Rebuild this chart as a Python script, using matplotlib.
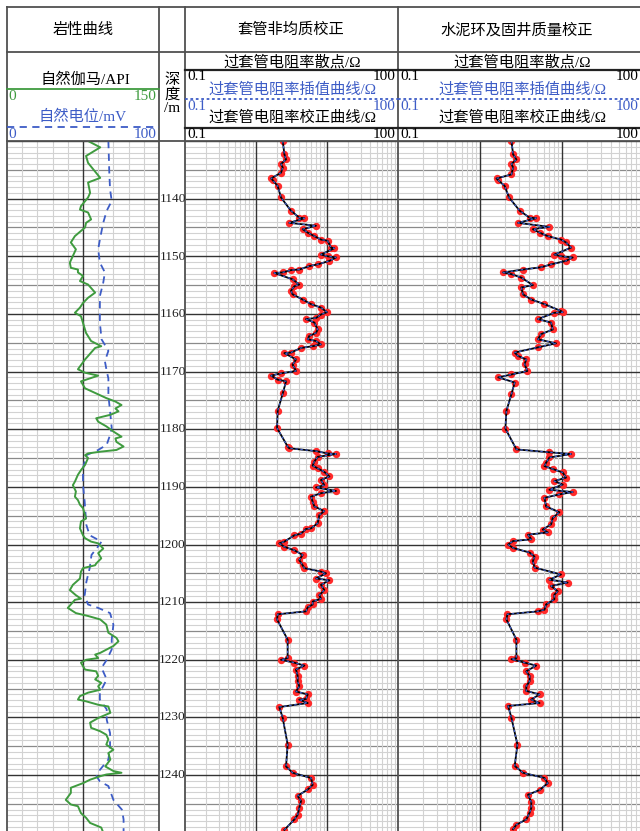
import numpy as np
import matplotlib.pyplot as plt

W, H = 640, 831
TOP, BOT = 1130.0, 1249.7

# 自然伽马 (API)
gr_depth = [1130.0, 1131.1, 1132.6, 1133.8, 1136.4, 1137.2, 1139.0, 1139.8, 1141.3, 1141.9,
            1142.4, 1143.6, 1144.2, 1145.0, 1146.5, 1147.6, 1148.8, 1151.1, 1152.0, 1152.3,
            1152.8, 1153.4, 1154.3, 1154.9, 1156.3, 1157.2, 1158.1, 1158.9, 1159.8, 1160.4,
            1163.3, 1164.7, 1165.6, 1165.9, 1167.3, 1167.9, 1169.1, 1169.6, 1170.2, 1170.7,
            1171.7, 1172.9, 1173.8, 1174.6, 1175.2, 1175.8, 1176.4, 1176.9, 1177.5, 1178.1,
            1178.7, 1179.5, 1180.4, 1181.3, 1181.6, 1182.2, 1183.0, 1183.6, 1183.9, 1184.2,
            1184.5, 1185.0, 1186.2, 1187.1, 1187.9, 1189.1, 1189.7, 1190.8, 1191.7, 1192.3,
            1193.1, 1193.7, 1194.9, 1195.5, 1196.0, 1197.2, 1198.4, 1198.9, 1199.5, 1199.8,
            1200.7, 1201.5, 1202.4, 1203.3, 1203.6, 1204.1, 1204.7, 1205.9, 1207.0, 1207.9,
            1208.8, 1209.4, 1209.6, 1210.4, 1211.0, 1211.9, 1212.4, 1213.0, 1213.9, 1215.3,
            1216.2, 1216.8, 1217.6, 1218.8, 1219.1, 1219.7, 1220.0, 1220.5, 1221.7, 1222.0,
            1222.8, 1223.4, 1224.0, 1224.6, 1225.2, 1225.7, 1226.3, 1226.9, 1227.2, 1227.8,
            1228.1, 1229.2, 1230.1, 1230.9, 1231.8, 1232.4, 1233.0, 1233.8, 1234.7, 1235.6,
            1236.2, 1237.3, 1238.5, 1239.3, 1239.6, 1239.9, 1240.2, 1240.8, 1241.4, 1242.2,
            1243.1, 1244.3, 1245.1, 1245.4, 1246.6, 1247.4, 1248.3, 1249.1, 1250.0]
gr_api = [80, 92, 78, 80, 92, 80, 82, 80, 73, 72,
          80, 83, 78, 77, 67, 63, 68, 62, 63, 70,
          70, 75, 72, 80, 87, 80, 75, 72, 67, 73,
          78, 83, 93, 87, 80, 77, 72, 70, 77, 90,
          73, 77, 88, 98, 107, 113, 107, 110, 102, 88,
          90, 98, 105, 113, 107, 108, 115, 108, 92, 80,
          77, 80, 77, 73, 70, 67, 65, 68, 67, 70,
          72, 75, 77, 78, 73, 72, 75, 77, 83, 90,
          95, 90, 93, 88, 87, 75, 73, 72, 65, 62,
          68, 73, 67, 63, 60, 68, 80, 92, 98, 100,
          108, 110, 105, 92, 87, 90, 78, 73, 77, 88,
          90, 87, 93, 90, 92, 80, 72, 70, 78, 90,
          100, 102, 90, 82, 83, 92, 98, 100, 98, 105,
          100, 102, 97, 105, 113, 98, 92, 82, 75, 63,
          63, 58, 63, 70, 73, 78, 82, 93, 95]

# 自然电位 (mV)
sp_depth = [1130.0, 1135.5, 1138.4, 1140.4, 1142.1, 1144.2, 1147.1, 1148.8, 1151.1, 1152.8,
            1154.6, 1156.9, 1161.5, 1164.4, 1166.4, 1168.2, 1169.9, 1171.2, 1174.1, 1176.9,
            1179.8, 1181.0, 1182.7, 1183.6, 1184.5, 1186.8, 1189.7, 1192.6, 1196.6, 1198.4,
            1199.5, 1200.7, 1201.8, 1204.1, 1206.5, 1208.8, 1210.4, 1211.0, 1211.9, 1213.9,
            1216.5, 1218.2, 1220.0, 1221.4, 1223.4, 1225.7, 1226.9, 1228.6, 1230.4, 1232.7,
            1235.0, 1237.3, 1239.1, 1240.2, 1241.1, 1241.9, 1244.3, 1246.0, 1247.7, 1250.0]
sp_mv = [66.7, 67.3, 67.8, 68.9, 65.6, 63.3, 61.1, 60.0, 61.1, 64.4,
         63.3, 61.1, 61.1, 62.2, 66.7, 64.4, 65.6, 66.7, 66.7, 67.8,
         68.9, 67.8, 65.6, 60.0, 52.2, 50.0, 50.0, 51.1, 52.2, 54.4,
         62.2, 58.9, 55.6, 54.4, 52.2, 51.1, 53.3, 60.0, 67.8, 70.0,
         68.9, 68.9, 65.6, 62.2, 65.6, 61.1, 61.1, 65.6, 65.6, 67.8,
         67.8, 66.7, 61.1, 58.9, 61.1, 66.7, 70.0, 75.6, 76.7, 76.7]

# 套管非均质校正: 过套管电阻率 (ohm)
r2_depth = [1130.0, 1132.3, 1133.2, 1134.0, 1134.6, 1135.5, 1136.5, 1136.8, 1137.8, 1139.8,
            1142.1, 1143.3, 1143.4, 1144.2, 1144.7, 1145.3, 1145.9, 1146.5, 1147.1, 1147.3,
            1148.5, 1148.6, 1149.7, 1150.0, 1150.2, 1150.8, 1151.4, 1151.7, 1152.3, 1152.4,
            1152.8, 1152.9, 1154.0, 1154.9, 1155.2, 1156.0, 1156.6, 1157.5, 1158.3, 1158.9,
            1159.7, 1160.1, 1160.7, 1160.9, 1161.5, 1162.7, 1163.3, 1163.8, 1164.4, 1164.7,
            1165.3, 1165.6, 1165.9, 1166.7, 1166.8, 1167.9, 1168.8, 1169.9, 1170.3, 1170.7,
            1171.4, 1171.7, 1173.8, 1176.8, 1179.8, 1183.0, 1183.3, 1183.8, 1184.2, 1184.3,
            1184.8, 1185.6, 1186.3, 1186.8, 1187.4, 1188.2, 1188.8, 1189.7, 1190.1, 1190.7,
            1191.1, 1191.7, 1192.6, 1193.4, 1194.2, 1194.9, 1196.3, 1197.2, 1197.3, 1198.1,
            1198.4, 1199.5, 1199.8, 1200.4, 1201.0, 1201.8, 1202.7, 1203.6, 1204.1, 1204.7,
            1205.0, 1205.9, 1206.2, 1207.0, 1207.9, 1208.8, 1209.4, 1209.9, 1210.4, 1210.9,
            1211.6, 1212.1, 1213.0, 1216.5, 1219.7, 1220.0, 1220.5, 1221.0, 1221.7, 1222.8,
            1223.7, 1224.6, 1225.5, 1226.0, 1226.8, 1226.9, 1227.5, 1228.2, 1230.1, 1234.7,
            1238.5, 1239.6, 1240.5, 1241.7, 1242.5, 1243.6, 1244.5, 1245.7, 1246.9, 1247.7,
            1249.5]
r2_ohm = [2.38, 2.51, 2.65, 2.25, 2.38, 2.25, 1.63, 1.72, 2.02, 2.25,
          3.11, 4.07, 4.80, 2.94, 7.00, 4.54, 5.35, 6.64, 8.22, 10.2,
          11.4, 12.7, 8.22, 10.2, 13.4, 10.8, 7.40, 5.64, 4.07, 3.11,
          2.38, 1.81, 3.28, 4.07, 3.47, 3.11, 3.28, 4.54, 5.96, 8.22,
          10.0, 8.22, 7.00, 5.06, 6.64, 7.40, 7.00, 5.64, 5.35, 7.00,
          8.22, 6.28, 4.31, 3.11, 2.51, 3.66, 3.28, 3.66, 2.25, 1.63,
          2.02, 2.65, 2.38, 2.02, 1.98, 2.79, 2.94, 7.00, 10.2, 13.4,
          7.40, 6.64, 6.28, 7.40, 9.16, 10.8, 8.22, 9.16, 7.00, 13.4,
          8.22, 5.96, 6.28, 6.64, 9.16, 7.80, 7.40, 5.96, 5.06, 4.31,
          3.47, 2.51, 2.13, 2.51, 3.47, 4.54, 4.07, 4.54, 4.80, 8.22,
          9.68, 7.00, 10.8, 8.22, 9.16, 7.80, 8.22, 6.28, 6.28, 5.35,
          5.06, 2.02, 1.98, 2.79, 2.79, 2.25, 3.47, 4.80, 3.66, 3.86,
          3.86, 4.07, 3.66, 5.35, 5.06, 4.07, 5.35, 2.13, 2.38, 2.79,
          2.65, 3.28, 5.96, 6.28, 5.35, 3.86, 4.31, 4.07, 3.86, 3.47,
          2.51]

# 水泥环及固井质量校正: 过套管电阻率 (ohm)
r3_depth = [1130.0, 1132.3, 1133.2, 1134.0, 1134.6, 1135.8, 1136.5, 1136.8, 1137.8, 1139.8,
            1142.1, 1143.3, 1143.4, 1144.2, 1144.9, 1145.3, 1145.9, 1146.5, 1147.1, 1147.6,
            1148.5, 1149.7, 1150.0, 1150.2, 1150.8, 1151.4, 1151.9, 1152.3, 1152.8, 1153.1,
            1153.7, 1155.0, 1155.4, 1156.6, 1157.5, 1158.3, 1159.5, 1159.7, 1159.8, 1160.9,
            1161.5, 1162.7, 1163.5, 1164.4, 1165.1, 1165.8, 1166.7, 1167.3, 1167.9, 1168.7,
            1169.9, 1170.5, 1171.0, 1171.9, 1173.9, 1176.8, 1179.9, 1183.5, 1184.0, 1184.3,
            1184.9, 1185.8, 1186.4, 1186.9, 1187.5, 1188.4, 1189.0, 1189.6, 1190.5, 1190.9,
            1191.3, 1191.9, 1193.4, 1194.4, 1195.4, 1196.5, 1197.4, 1197.9, 1198.3, 1199.1,
            1199.4, 1200.0, 1200.6, 1201.4, 1202.1, 1202.9, 1204.0, 1205.2, 1206.1, 1206.6,
            1207.2, 1208.1, 1208.7, 1209.5, 1210.4, 1211.3, 1211.6, 1212.1, 1213.0, 1216.5,
            1219.7, 1219.9, 1220.5, 1221.0, 1222.0, 1222.8, 1223.7, 1224.6, 1225.4, 1226.0,
            1226.9, 1227.5, 1228.0, 1230.1, 1234.7, 1238.4, 1239.6, 1240.5, 1241.4, 1242.6,
            1243.4, 1244.7, 1245.7, 1246.5, 1247.7, 1248.6, 1249.4]
r3_ohm = [2.42, 2.53, 2.78, 2.42, 2.53, 2.42, 1.59, 1.67, 2.00, 2.26,
          3.05, 4.03, 4.84, 2.91, 7.03, 4.42, 5.32, 6.71, 9.73, 11.2,
          12.9, 8.07, 9.73, 13.5, 11.2, 7.36, 5.57, 3.34, 1.91, 2.42,
          3.19, 4.42, 3.19, 3.34, 4.22, 6.11, 9.73, 10.2, 8.07, 5.08,
          7.36, 7.71, 5.57, 5.08, 8.45, 5.08, 2.65, 2.91, 3.67, 3.50,
          3.78, 2.42, 1.67, 2.65, 2.42, 2.10, 2.04, 2.78, 7.03, 12.9,
          7.03, 6.40, 6.11, 7.71, 10.2, 11.2, 8.07, 10.2, 7.03, 13.5,
          9.29, 6.11, 6.40, 9.29, 7.71, 7.36, 5.83, 6.71, 3.85, 4.22,
          2.53, 2.20, 2.53, 4.03, 4.62, 4.42, 4.62, 9.73, 7.03, 11.7,
          7.36, 8.87, 8.07, 8.07, 6.40, 6.11, 5.08, 2.16, 2.10, 2.78,
          2.78, 2.42, 3.50, 4.84, 3.67, 4.03, 4.03, 3.67, 3.67, 5.32,
          4.22, 5.32, 2.20, 2.42, 2.86, 2.65, 3.34, 6.11, 6.71, 5.32,
          3.85, 4.22, 4.22, 4.03, 3.67, 2.78, 2.53]

depth_labels = list(range(1140, 1250, 10))

plt.rcParams['font.family'] = ['Liberation Serif', 'Noto Sans CJK SC']

GREEN = '#3f9b3f'
BLUE = '#3d5cc6'
RED = '#ff2a2a'
FRAME = '#505050'
FS = 11

fig = plt.figure(figsize=(6.4, 8.31), dpi=100)


def box(x0, x1, y0=141, y1=831):
    return [x0 / W, 1 - y1 / H, (x1 - x0) / W, (y1 - y0) / H]


def depth_grid(ax, xmin, xmax):
    d = np.arange(1130, 1251)
    ax.hlines(d[d % 5 != 0], xmin, xmax, color='#d2d2d2', lw=0.8, zorder=0)
    ax.hlines(d[(d % 5 == 0) & (d % 10 != 0)], xmin, xmax, color='#8a8a8a', lw=0.9, zorder=0)
    ax.hlines(d[d % 10 == 0], xmin, xmax, color='#333333', lw=1.0, zorder=1)


def clean(ax):
    ax.set_ylim(BOT, TOP)
    ax.set_xticks([])
    ax.set_yticks([])
    ax.minorticks_off()
    for s in ax.spines.values():
        s.set_visible(False)


# track 1: GR / SP
ax1 = fig.add_axes(box(7, 159))
ax1.set_xlim(0, 150)
depth_grid(ax1, 0, 150)
for g in range(15, 150, 15):
    ax1.axvline(g, color='#333333' if g == 75 else '#d2d2d2', lw=1.0 if g == 75 else 0.8, zorder=0)
ax1.plot(np.array(sp_mv) * 1.5, sp_depth, color=BLUE, lw=1.3, ls=(0, (4, 3)), zorder=2)
ax1.plot(gr_api, gr_depth, color=GREEN, lw=1.4, zorder=3)
clean(ax1)

# resistivity tracks
for x0, x1, dep, val in [(185, 398, r2_depth, r2_ohm), (398, 644, r3_depth, r3_ohm)]:
    ax = fig.add_axes(box(x0, x1))
    ax.set_xscale('log')
    ax.set_xlim(0.1, 100)
    depth_grid(ax, 0.1, 100)
    for dec in [0.1, 1, 10]:
        for k in range(2, 10):
            ax.axvline(k * dec, color='#d2d2d2', lw=0.8, zorder=0)
    for dec in [1, 10]:
        ax.axvline(dec, color='#333333', lw=1.0, zorder=1)
    ax.scatter(val, dep, s=28, color=RED, zorder=3, linewidths=0)
    ax.plot(val, dep, color='black', lw=1.3, zorder=4)
    ax.plot(val, dep, color=BLUE, lw=0.9, ls=(0, (2, 2)), zorder=5)
    clean(ax)

# header and frame
hx = fig.add_axes([0, 0, 1, 1], zorder=10)
hx.set_xlim(0, W)
hx.set_ylim(H, 0)
hx.axis('off')

for y in [7, 52, 141]:
    hx.plot([7, W], [y, y], color=FRAME, lw=1.3)
for x in [7, 159, 185, 398]:
    hx.plot([x, x], [7, H], color=FRAME, lw=1.3)

# depth labels (drawn over the frame so they sit against the borders)
for d in depth_labels:
    yp = 199 + (d - 1140) * 5.76
    hx.text(172.5, yp, str(d), ha='center', va='center', fontsize=9.6, color='#222222', zorder=12)

hx.text(83, 30, '岩性曲线', ha='center', va='center', fontsize=FS)
hx.text(291, 30, '套管非均质校正', ha='center', va='center', fontsize=FS)
hx.text(517, 30, '水泥环及固井质量校正', ha='center', va='center', fontsize=FS)

# track 1 header
hx.text(85, 80, '自然伽马/API', ha='center', va='center', fontsize=FS)
hx.plot([7, 159], [89, 89], color=GREEN, lw=1.3)
hx.text(8, 97, '0', ha='left', va='center', fontsize=FS, color=GREEN)
hx.text(157, 97, '150', ha='right', va='center', fontsize=FS, color=GREEN)
hx.text(83, 117, '自然电位/mV', ha='center', va='center', fontsize=FS, color=BLUE)
hx.plot([7, 159], [127, 127], color=BLUE, lw=1.3, ls=(0, (4, 3)))
hx.text(8, 135, '0', ha='left', va='center', fontsize=FS, color=BLUE)
hx.text(157, 135, '100', ha='right', va='center', fontsize=FS, color=BLUE)

# depth header
for txt, y in [('深', 80), ('度', 95), ('/m', 109)]:
    hx.text(172, y, txt, ha='center', va='center', fontsize=FS)

# resistivity headers
for x0, x1, xc, xr in [(185, 398, 292, 396), (398, 644, 522, 639)]:
    hx.text(xc, 62, '过套管电阻率散点/Ω', ha='center', va='center', fontsize=FS)
    hx.plot([x0, x1], [70, 70], color='#222222', lw=1.6)
    hx.text(x0 + 2, 77, '0.1', ha='left', va='center', fontsize=FS)
    hx.text(xr, 77, '100', ha='right', va='center', fontsize=FS)
    hx.text(xc, 90, '过套管电阻率插值曲线/Ω', ha='center', va='center', fontsize=FS, color=BLUE)
    hx.plot([x0, x1], [99, 99], color=BLUE, lw=1.3, ls=(0, (1.5, 1.5)))
    hx.text(x0 + 2, 107, '0.1', ha='left', va='center', fontsize=FS, color=BLUE)
    hx.text(xr, 107, '100', ha='right', va='center', fontsize=FS, color=BLUE)
    hx.text(xc, 118, '过套管电阻率校正曲线/Ω', ha='center', va='center', fontsize=FS)
    hx.plot([x0, x1], [128, 128], color='#222222', lw=1.6)
    hx.text(x0 + 2, 135, '0.1', ha='left', va='center', fontsize=FS)
    hx.text(xr, 135, '100', ha='right', va='center', fontsize=FS)

fig.savefig('out.png', dpi=100)
